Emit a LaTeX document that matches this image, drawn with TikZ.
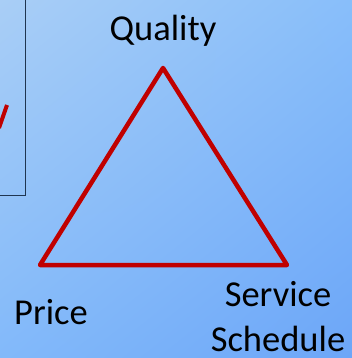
\documentclass[tikz,border=0pt]{standalone}
\usepackage{fontspec}
\setmainfont{Carlito}
\usetikzlibrary{positioning}
\usetikzlibrary{shadings}
\definecolor{slidetl}{HTML}{A9CEF6}
\definecolor{slidetr}{HTML}{88BEFA}
\definecolor{slidebl}{HTML}{82B9FA}
\definecolor{slidebr}{HTML}{6CA6F8}
\definecolor{edgered}{HTML}{C00000}
\definecolor{boxline}{HTML}{1F3550}

\begin{document}
\begin{tikzpicture}[x=1pt, y=-1pt,
 cornernode/.style={inner sep=0pt, font=\fontsize{36.5}{45}\selectfont, align=center, text=black},
 sideline/.style={draw=edgered, line width=4.5pt, line join=round, line cap=round}
 ]
 \useasboundingbox (0,0) rectangle (352,358);
 \shade[upper left=slidetl, upper right=slidetr, lower left=slidebl, lower right=slidebr] (0,0) rectangle (352,358);

 %Box
 \draw[boxline, line width=1pt] (25,0) -- (25,195) -- (0,195);
 \begin{scope}
  \clip (0,0) rectangle (25,195);
  \draw[edgered, line width=4pt] (7,105) -- (-1,128);
 \end{scope}

 %Corners
 \coordinate (top_corner) at (163,68);
 \coordinate (left_corner) at (40,265);
 \coordinate (right_corner) at (287,265);

 %Labels
 \node[cornernode] (quality_node) at (163,31) {Quality};
 \node[cornernode] (price_node) at (51,312) {Price};
 \node[cornernode] (service_node) at (278,317) {Service\\Schedule};

 %Lines
 \draw[sideline] (top_corner) -- (right_corner) -- (left_corner) -- cycle;
\end{tikzpicture}
\end{document}
